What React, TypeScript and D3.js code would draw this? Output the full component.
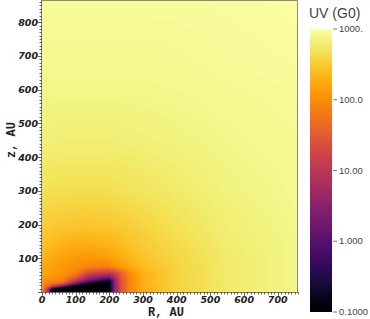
import React, { useMemo } from "react";
import * as d3 from "d3";

// grid of the UV field (R and z in AU, values are log10 of UV in G0)
const rGrid = [0, 20, 30, 60, 100, 140, 180, 200, 215, 235, 260, 300, 400, 550, 760];
const zGrid = [0, 8, 16, 24, 32, 40, 55, 75, 100, 140, 200, 300, 450, 650, 870];
const uvLog = [
  [2.06, 0.6, -1.6, -2.0, -2.0, -2.0, -2.0, -1.0, 0.46, 1.38, 1.9, 2.25, 2.56, 2.76, 2.88],
  [2.06, 0.8, -1.0, -2.0, -2.0, -2.0, -2.0, -1.0, 0.46, 1.38, 1.9, 2.25, 2.56, 2.76, 2.88],
  [2.04, 1.4, 1.04, 0.12, -1.3, -2.0, -2.0, -1.0, 0.46, 1.38, 1.9, 2.26, 2.56, 2.76, 2.88],
  [2.04, 1.8, 1.68, 1.48, 0.16, -1.0, -1.6, -1.0, 0.48, 1.4, 1.92, 2.28, 2.58, 2.76, 2.88],
  [2.08, 1.92, 1.92, 1.86, 1.0, 0.04, -0.6, -0.84, 0.48, 1.4, 1.92, 2.28, 2.58, 2.76, 2.88],
  [2.12, 2.06, 2.02, 1.96, 1.4, 0.56, 0.16, 0.04, 0.64, 1.42, 1.92, 2.28, 2.58, 2.76, 2.88],
  [2.2, 2.16, 2.12, 2.08, 1.84, 1.26, 1.08, 1.0, 1.16, 1.56, 2.0, 2.28, 2.58, 2.76, 2.88],
  [2.22, 2.2, 2.18, 2.08, 2.04, 1.92, 1.84, 1.88, 2.0, 2.12, 2.24, 2.38, 2.58, 2.76, 2.88],
  [2.33, 2.28, 2.25, 2.16, 2.1, 2.08, 2.12, 2.16, 2.2, 2.26, 2.33, 2.44, 2.6, 2.76, 2.88],
  [2.42, 2.38, 2.36, 2.31, 2.27, 2.26, 2.29, 2.31, 2.34, 2.37, 2.42, 2.5, 2.63, 2.78, 2.88],
  [2.54, 2.52, 2.51, 2.49, 2.47, 2.47, 2.48, 2.49, 2.5, 2.51, 2.54, 2.58, 2.68, 2.8, 2.89],
  [2.68, 2.67, 2.67, 2.66, 2.66, 2.66, 2.66, 2.66, 2.67, 2.68, 2.69, 2.71, 2.76, 2.84, 2.9],
  [2.81, 2.81, 2.81, 2.8, 2.8, 2.8, 2.8, 2.8, 2.8, 2.81, 2.81, 2.82, 2.84, 2.88, 2.92],
  [2.9, 2.9, 2.9, 2.9, 2.9, 2.9, 2.9, 2.9, 2.9, 2.9, 2.9, 2.9, 2.91, 2.93, 2.95],
  [2.95, 2.95, 2.95, 2.95, 2.95, 2.95, 2.95, 2.95, 2.95, 2.95, 2.95, 2.95, 2.95, 2.96, 2.98],
];

const xTicks = [0, 100, 200, 300, 400, 500, 600, 700];
const yTicks = [100, 200, 300, 400, 500, 600, 700, 800];
const cbTicks = [1000, 100, 10, 1, 0.1];
const cbLabels = ["1000.", "100.0", "10.00", "1.000", "0.1000"];

const RMAX = 760;
const ZMAX = 866;

function lookup(grid: number[], v: number) {
  let i = d3.bisectRight(grid, v) - 1;
  i = Math.max(0, Math.min(grid.length - 2, i));
  const t = Math.max(0, Math.min(1, (v - grid[i]) / (grid[i + 1] - grid[i])));
  return [i, t];
}

function field(R: number, z: number) {
  const [i, tx] = lookup(rGrid, R);
  const [j, ty] = lookup(zGrid, z);
  const a = uvLog[j][i], b = uvLog[j][i + 1];
  const c = uvLog[j + 1][i], d = uvLog[j + 1][i + 1];
  return (a * (1 - tx) + b * tx) * (1 - ty) + (c * (1 - tx) + d * tx) * ty;
}

export default function App() {
  const left = 42, right = 298, top = 0, bottom = 292;
  const x = d3.scaleLinear().domain([0, RMAX]).range([left, right]);
  const y = d3.scaleLinear().domain([0, ZMAX]).range([bottom, top]);
  const color = d3.scaleSequentialLog(d3.interpolateInferno).domain([0.1, 1000]).clamp(true);

  const url = useMemo(() => {
    const w = right - left, h = bottom - top;
    const cv = document.createElement("canvas");
    cv.width = w;
    cv.height = h;
    const ctx = cv.getContext("2d")!;
    const img = ctx.createImageData(w, h);
    for (let py = 0; py < h; py++) {
      const z = y.invert(top + py + 0.5);
      for (let px = 0; px < w; px++) {
        const R = x.invert(left + px + 0.5);
        const c = d3.rgb(color(Math.pow(10, field(R, z))));
        const k = (py * w + px) * 4;
        img.data[k] = c.r;
        img.data[k + 1] = c.g;
        img.data[k + 2] = c.b;
        img.data[k + 3] = 255;
      }
    }
    ctx.putImageData(img, 0, 0);
    return cv.toDataURL();
  }, []);

  // colorbar
  const cbX = 310, cbW = 22;
  const cb = d3.scaleLog().domain([0.1, 1000]).range([312, 29]);
  const stops = d3.range(0, 1.0001, 0.05);

  const minorX = d3.range(0, RMAX + 1, 10);
  const minorY = d3.range(0, ZMAX, 10);
  const tickFont = { fontFamily: "DejaVu Sans", fontWeight: "bold", fontStyle: "italic", fontSize: 9.5 } as const;
  const titleFont = { fontFamily: "Liberation Mono", fontWeight: "bold", fontSize: 12 } as const;

  return (
    <svg width={370} height={319} style={{ position: "absolute", left: 0, top: 0, background: "#fff" }}>
      <defs>
        <linearGradient id="cbg" x1="0" y1="1" x2="0" y2="0">
          {stops.map((s) => (
            <stop key={s} offset={s} stopColor={d3.interpolateInferno(s)} />
          ))}
        </linearGradient>
      </defs>
      <image href={url} x={left} y={top} width={right - left} height={bottom - top} preserveAspectRatio="none" />
      <path d={`M${left},${top + 0.5}H${right - 0.5}V${bottom}`} fill="none" stroke="#8a8a72" strokeWidth={1} />
      <line x1={left - 0.5} x2={left - 0.5} y1={top} y2={bottom} stroke="#777" strokeWidth={1} />
      <line x1={left} x2={right} y1={bottom + 0.5} y2={bottom + 0.5} stroke="#777" strokeWidth={1} />
      {minorX.map((v) => (
        <line key={"mx" + v} x1={Math.round(x(v)) + 0.5} x2={Math.round(x(v)) + 0.5} y1={bottom} y2={bottom + (v % 100 === 0 ? 4 : 2.5)} stroke="#444" strokeWidth={0.8} />
      ))}
      {minorY.map((v) => (
        <line key={"my" + v} y1={Math.round(y(v)) + 0.5} y2={Math.round(y(v)) + 0.5} x1={left} x2={left - (v % 100 === 0 ? 4 : 2.5)} stroke="#444" strokeWidth={0.8} />
      ))}
      {xTicks.map((v) => (
        <text key={"xt" + v} x={x(v)} y={302.5} textAnchor="middle" fill="#222" style={tickFont}>{v}</text>
      ))}
      {yTicks.map((v) => (
        <text key={"yt" + v} x={38} y={y(v) + 3.5} textAnchor="end" fill="#222" style={tickFont}>{v}</text>
      ))}
      <text x={166} y={316} textAnchor="middle" fill="#222" style={titleFont}>R, AU</text>
      <text transform="translate(15,140) rotate(-90)" textAnchor="middle" fill="#222" style={titleFont}>z, AU</text>

      <rect x={cbX} y={cb(1000)} width={cbW} height={cb(0.1) - cb(1000)} fill="url(#cbg)" />
      <text x={309} y={18} fill="#444" style={{ fontFamily: "Liberation Sans", fontSize: 14 }}>UV (G0)</text>
      {cbTicks.map((v, i) => (
        <g key={"cb" + v}>
          <line x1={cbX + cbW + 1} x2={cbX + cbW + 5} y1={cb(v)} y2={cb(v)} stroke="#777" strokeWidth={1} />
          <text x={cbX + cbW + 7} y={cb(v) + 3} fill="#444" style={{ fontFamily: "Liberation Sans", fontSize: 9.5 }}>{cbLabels[i]}</text>
        </g>
      ))}
    </svg>
  );
}
